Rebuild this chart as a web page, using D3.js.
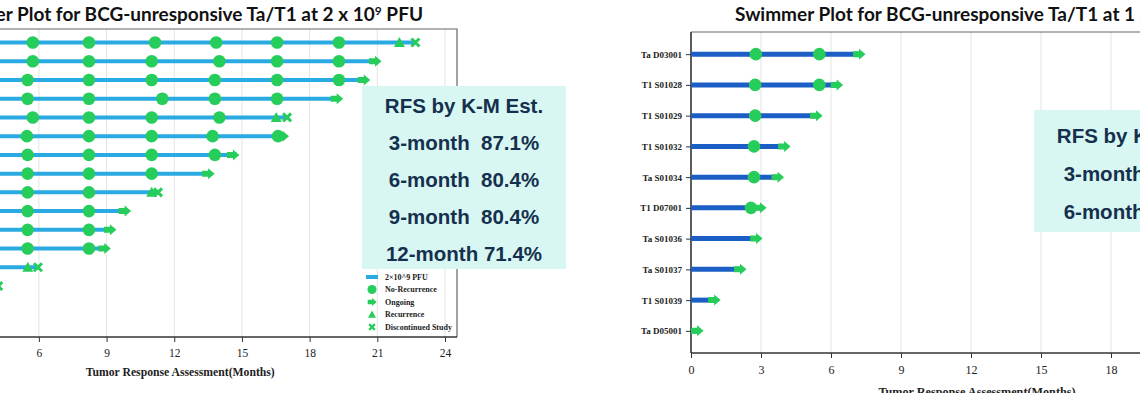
<!DOCTYPE html>
<html>
<head>
<meta charset="utf-8">
<script src="https://cdn.jsdelivr.net/npm/d3@7"></script>
<style>
  body { margin: 0; background: #fff; }
  svg { display: block; }
</style>
</head>
<body>
<svg id="chart" width="1140" height="393"></svg>
<script>
// shared month ticks
const monthTicks = [0, 3, 6, 9, 12, 15, 18, 21, 24];

// left panel: 2 x 10^9 PFU cohort (rows ordered top to bottom)
const leftPatients = ["P01", "P02", "P03", "P04", "P05", "P06", "P07", "P08",
                      "P09", "P10", "P11", "P12", "P13", "P14", "P15", "P16"];
const leftDuration = [22.7, 20.9, 20.4, 19.2, 17.0, 16.8, 14.6, 13.5, 11.3, 9.8, 9.15, 8.9, 5.96, 4.2, 3.1, 1.2];
const leftNoRecurrence = [
    [2.8, 5.73, 8.22, 11.15, 13.86, 16.56, 19.3],
    [2.8, 5.73, 8.22, 11.0, 14.0, 16.56, 19.3],
    [2.8, 5.5, 8.22, 11.0, 13.8, 16.56, 19.3],
    [2.8, 5.5, 8.22, 11.47, 13.8, 16.56],
    [2.8, 5.73, 8.22, 11.0, 14.0],
    [2.8, 5.47, 8.22, 11.0, 13.7, 16.6],
    [2.8, 5.5, 8.22, 11.0, 13.8],
    [2.8, 5.5, 8.22, 11.0],
    [2.8, 5.5, 8.22],
    [2.8, 5.5, 8.22],
    [2.8, 5.5, 8.22],
    [2.8, 5.5, 8.22],
    [2.8],
    [2.8],
    [2.7],
    []
];
const leftOngoing = [null, 20.9, 20.4, 19.2, null, 16.8, 14.6, 13.5, null, 9.8, 9.15, 8.9, null, null, 3.1, 1.2];
const leftRecurrence = [21.98, null, null, null, 16.52, null, null, null, 11.0, null, null, null, 5.51, null, null, null];
const leftDiscontinued = [22.69, null, null, null, 17.0, null, null, null, 11.28, null, null, null, 5.96, 4.2, null, null];
const leftRfsLabels = ["3-month", "6-month", "9-month", "12-month"];
const leftRfsValues = ["87.1%", "80.4%", "80.4%", "71.4%"];

// right panel: 1 x 10^9 PFU cohort
const rightPatients = ["Ta D03001", "T1 S01028", "T1 S01029", "T1 S01032", "Ta S01034",
                       "T1 D07001", "Ta S01036", "Ta S01037", "T1 S01039", "Ta D05001"];
const rightDuration = [7.2, 6.24, 5.36, 3.99, 3.71, 2.96, 2.79, 2.1, 0.99, 0.26];
const rightNoRecurrence = [[2.78, 5.5], [2.75, 5.5], [2.75], [2.7], [2.7], [2.57], [], [], [], []];
const rightOngoing = [7.2, 6.24, 5.36, 3.99, 3.71, 2.96, 2.79, 2.1, 0.99, 0.26];
const rightRecurrence = [null, null, null, null, null, null, null, null, null, null];
const rightDiscontinued = [null, null, null, null, null, null, null, null, null, null];
const rightRfsLabels = ["3-month", "6-month"];
const rightRfsValues = ["100%", "100%"];

const legendLabels = ["No-Recurrence", "Ongoing", "Recurrence", "Discontinued Study"];

const green = "#27cd5a";
const serif = "'Liberation Serif', 'Times New Roman', serif";
const svg = d3.select("#chart");

const arrowPath = "M-6,-3L0,-3L0,-5.5L6.5,0L0,5.5L0,3L-6,3Z";
const trianglePath = "M0,-5.5L5.5,4.5L-5.5,4.5Z";

function drawMarker(g, type, cx, cy, s) {
    const m = g.append("g").attr("transform", `translate(${cx},${cy}) scale(${s})`);
    if (type === "circle") {
        m.append("circle").attr("r", 6.3).attr("fill", green);
    } else if (type === "arrow") {
        m.append("path").attr("d", arrowPath).attr("fill", green);
    } else if (type === "triangle") {
        m.append("path").attr("d", trianglePath).attr("fill", green);
    } else if (type === "cross") {
        m.append("path").attr("d", "M-4,-4L4,4M-4,4L4,-4")
            .attr("stroke", green).attr("stroke-width", 3).attr("fill", "none");
    }
}

function drawSwimmer(cfg) {
    const g = svg.append("g");
    const x = d3.scaleLinear().domain([0, 24]).range([cfg.x0, cfg.x24]);
    const y = d3.scalePoint().domain(cfg.patients).range([cfg.top, cfg.bottom]).padding(0.72);

    // grid
    g.selectAll(".grid")
        .data(monthTicks.filter(d => d > 0))
        .enter()
        .append("line")
        .attr("x1", d => x(d)).attr("x2", d => x(d))
        .attr("y1", cfg.top).attr("y2", cfg.bottom)
        .attr("stroke", "#e4e4e4").attr("stroke-width", 1);

    // frame
    g.append("path")
        .attr("d", `M${cfg.x0},${cfg.top}H${cfg.frameRight}V${cfg.bottom}`)
        .attr("fill", "none").attr("stroke", "#666").attr("stroke-width", 1.2);

    // title
    const title = g.append("text")
        .attr("x", cfg.titleX).attr("y", 21)
        .attr("text-anchor", cfg.titleAnchor)
        .attr("font-family", "Lato, 'Open Sans', sans-serif")
        .attr("font-weight", 700)
        .attr("font-size", 19)
        .attr("fill", "#111");
    title.append("tspan").text(cfg.title);
    title.append("tspan").attr("font-size", 12).attr("dy", -6).text("9");
    title.append("tspan").attr("dy", 6).text(" PFU");

    // x axis
    const xAxis = g.append("g")
        .attr("transform", `translate(0,${cfg.bottom})`)
        .call(d3.axisBottom(x).tickValues(monthTicks).tickSize(5).tickPadding(7));
    xAxis.select(".domain").remove();
    xAxis.selectAll("line").attr("stroke", "#333");
    xAxis.selectAll("text")
        .attr("font-family", serif).attr("font-size", cfg.tickFont).attr("fill", "#222");
    g.append("line")
        .attr("x1", cfg.x0).attr("x2", cfg.frameRight)
        .attr("y1", cfg.bottom).attr("y2", cfg.bottom)
        .attr("stroke", "#333").attr("stroke-width", 1.6);

    g.append("text")
        .attr("x", (cfg.x0 + cfg.frameRight) / 2).attr("y", cfg.bottom + cfg.xLabelOffset)
        .attr("text-anchor", "middle")
        .attr("font-family", serif).attr("font-weight", 700)
        .attr("font-size", cfg.labelFont).attr("fill", "#222")
        .text("Tumor Response Assessment(Months)");

    // y axis
    const yAxis = g.append("g")
        .attr("transform", `translate(${cfg.x0},0)`)
        .call(d3.axisLeft(y).tickSize(5).tickPadding(4));
    yAxis.select(".domain").remove();
    yAxis.selectAll("line").attr("stroke", "#333");
    yAxis.selectAll("text")
        .attr("font-family", serif).attr("font-weight", 700)
        .attr("font-size", 9).attr("fill", "#222");
    g.append("line")
        .attr("x1", cfg.x0).attr("x2", cfg.x0)
        .attr("y1", cfg.top).attr("y2", cfg.bottom)
        .attr("stroke", "#333").attr("stroke-width", 1.6);

    // swim lanes
    g.selectAll(".lane")
        .data(cfg.patients)
        .enter()
        .append("line")
        .attr("x1", x(0))
        .attr("x2", (d, i) => x(cfg.duration[i]))
        .attr("y1", d => y(d)).attr("y2", d => y(d))
        .attr("stroke", cfg.laneColor)
        .attr("stroke-width", cfg.laneWidth);

    // events
    cfg.patients.forEach((p, i) => {
        cfg.noRecurrence[i].forEach(m => drawMarker(g, "circle", x(m), y(p), 1));
        if (cfg.recurrence[i] != null) drawMarker(g, "triangle", x(cfg.recurrence[i]), y(p), 1);
        if (cfg.discontinued[i] != null) drawMarker(g, "cross", x(cfg.discontinued[i]), y(p), 1);
        if (cfg.ongoing[i] != null) drawMarker(g, "arrow", x(cfg.ongoing[i]), y(p), 1);
    });

    // RFS box
    const box = cfg.rfs;
    g.append("rect")
        .attr("x", box.x).attr("y", box.y)
        .attr("width", box.w).attr("height", box.h)
        .attr("fill", "#d9f7f2");
    const rfsLines = ["RFS by K-M Est."].concat(
        cfg.rfsLabels.map((l, i) => l + (l.length < 8 ? "  " : " ") + cfg.rfsValues[i]));
    g.selectAll(".rfs")
        .data(rfsLines)
        .enter()
        .append("text")
        .attr("x", box.x + box.w / 2)
        .attr("y", (d, i) => box.y + box.first + i * box.step)
        .attr("text-anchor", "middle")
        .attr("dominant-baseline", "central")
        .style("white-space", "pre")
        .attr("font-family", "'Liberation Sans', Arial, sans-serif")
        .attr("font-weight", 700)
        .attr("font-size", 20.5)
        .attr("fill", "#15304e")
        .text(d => d);

    // legend
    const lx = cfg.frameRight - 85, tx = cfg.frameRight - 72, ly = cfg.bottom - 60;
    const leg = g.append("g");
    leg.append("rect")
        .attr("x", lx - 6).attr("y", ly - 2)
        .attr("width", 12).attr("height", 4)
        .attr("fill", cfg.laneColor);
    const legTypes = ["circle", "arrow", "triangle", "cross"];
    const legItems = [cfg.legendLine].concat(legendLabels);
    legItems.forEach((label, i) => {
        if (i > 0) drawMarker(leg, legTypes[i - 1], lx, ly + i * 12.5, 0.72);
        leg.append("text")
            .attr("x", tx).attr("y", ly + i * 12.5)
            .attr("dominant-baseline", "central")
            .attr("font-family", serif).attr("font-weight", 700)
            .attr("font-size", 8).attr("fill", "#222")
            .text(label);
    });
}

drawSwimmer({
    patients: leftPatients, duration: leftDuration,
    noRecurrence: leftNoRecurrence, ongoing: leftOngoing,
    recurrence: leftRecurrence, discontinued: leftDiscontinued,
    rfsLabels: leftRfsLabels, rfsValues: leftRfsValues,
    x0: -96.5, x24: 445, frameRight: 457, top: 29, bottom: 337,
    laneColor: "#2aaae2", laneWidth: 4,
    title: "Swimmer Plot for BCG-unresponsive Ta/T1 at 2 x 10", titleX: 423, titleAnchor: "end",
    tickFont: 11.5, labelFont: 11.7, xLabelOffset: 39,
    legendLine: "2×10^9 PFU",
    rfs: { x: 362, y: 86, w: 204, h: 183, first: 19, step: 37 }
});

drawSwimmer({
    patients: rightPatients, duration: rightDuration,
    noRecurrence: rightNoRecurrence, ongoing: rightOngoing,
    recurrence: rightRecurrence, discontinued: rightDiscontinued,
    rfsLabels: rightRfsLabels, rfsValues: rightRfsValues,
    x0: 691, x24: 1251, frameRight: 1263, top: 32, bottom: 353,
    laneColor: "#1b5ec6", laneWidth: 5,
    title: "Swimmer Plot for BCG-unresponsive Ta/T1 at 1 x 10", titleX: 735, titleAnchor: "start",
    tickFont: 12, labelFont: 12.2, xLabelOffset: 43,
    legendLine: "1×10^9 PFU",
    rfs: { x: 1034, y: 110, w: 204, h: 122, first: 25, step: 38 }
});
</script>
</body>
</html>
